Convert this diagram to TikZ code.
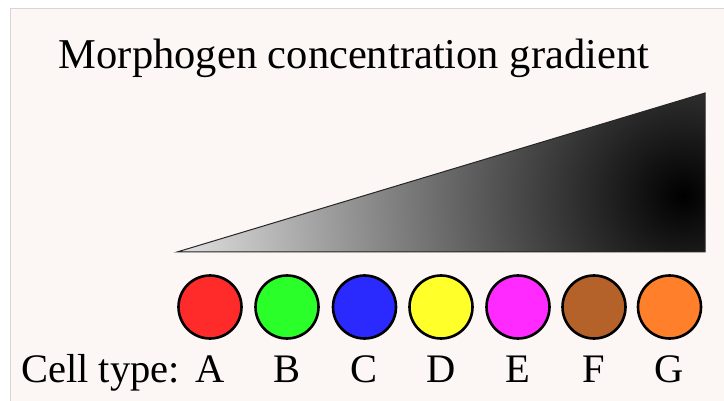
\documentclass[tikz,border=0pt]{standalone}
\usepackage{fontspec}
\setmainfont{Liberation Serif}
\definecolor{bgpink}{HTML}{FCF6F5}
\definecolor{framegray}{HTML}{D6D6D6}
\definecolor{cred}{HTML}{FF2A2A}
\definecolor{cgreen}{HTML}{2AFF2A}
\definecolor{cblue}{HTML}{2A2AFF}
\definecolor{cyellow}{HTML}{FFFF2A}
\definecolor{cmagenta}{HTML}{FF2AFF}
\definecolor{cbrown}{HTML}{B5622A}
\definecolor{corange}{HTML}{FF7F2A}
\pgfdeclareradialshading{morph}{\pgfpoint{0bp}{0bp}}{color(0bp)=(black); color(575bp)=(white)}
\tikzset{
  cell/.style={circle, draw=black, line width=2.6pt, minimum size=63pt, inner sep=0pt},
  lbl/.style={anchor=base, font=\fontsize{40.5}{44}\selectfont, inner sep=0pt},
  ttl/.style={anchor=base, font=\fontsize{42.5}{46}\selectfont, inner sep=0pt},
}
\begin{document}
\begin{tikzpicture}[x=1pt,y=-1pt]
\useasboundingbox (0,0) rectangle (724,401);
\fill[white] (0,0) rectangle (724,401);
\fill[bgpink] (10,8) rectangle (730,410);
\draw[framegray, line width=1pt] (730,8.5) -- (10.5,8.5) -- (10.5,410);
% title
\node[ttl] (title) at (354,69) {Morphogen concentration gradient};
% gradient triangle
\begin{scope}
\clip (177,252) -- (705,93) -- (705,252) -- cycle;
\node[inner sep=0pt, outer sep=0pt] (shd) at (683,195) {\pgfuseshading{morph}};
\end{scope}
\draw[black!85, line width=1pt, line join=miter] (177,252) -- (705,93) -- (705,252) -- cycle;
% cells
\node[cell, fill=cred]     (A) at (210,307) {};
\node[cell, fill=cgreen]   (B) at (287,307) {};
\node[cell, fill=cblue]    (C) at (364.5,307) {};
\node[cell, fill=cyellow]  (D) at (441,307) {};
\node[cell, fill=cmagenta] (E) at (518,307) {};
\node[cell, fill=cbrown]   (F) at (594,307) {};
\node[cell, fill=corange]  (G) at (669.5,307) {};
% labels
\node[lbl, anchor=base west] (ct) at (21,382) {Cell type:};
\node[lbl] (la) at (210,382) {A};
\node[lbl] (lb) at (287,382) {B};
\node[lbl] (lc) at (364.5,382) {C};
\node[lbl] (ld) at (441,382) {D};
\node[lbl] (le) at (518,382) {E};
\node[lbl] (lf) at (594,382) {F};
\node[lbl] (lg) at (669.5,382) {G};
\end{tikzpicture}
\end{document}
